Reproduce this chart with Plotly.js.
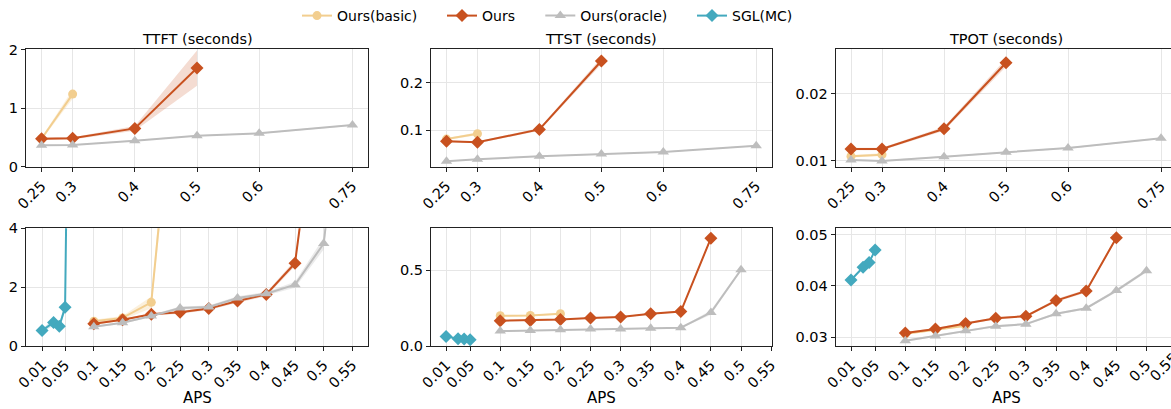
<!DOCTYPE html>
<html>
<head>
<meta charset="utf-8">
<script src="https://cdn.plot.ly/plotly-3.0.1.min.js"></script>
<style>html,body{margin:0;padding:0;overflow:hidden;background:#fff;}</style>
</head>
<body>
<div id="chart" style="width:1171px;height:409px;"></div>
<script>
// ---------- data ----------
const seriesNames = ['Ours(basic)', 'Ours', 'Ours(oracle)', 'SGL(MC)'];
const panelTitles = ['TTFT (seconds)', 'TTST (seconds)', 'TPOT (seconds)'];
const xLabel = 'APS';

const xTop = [0.25, 0.3, 0.4, 0.5, 0.6, 0.75];
const xTopTicks = ['0.25', '0.3', '0.4', '0.5', '0.6', '0.75'];
const xBottom = [0.1, 0.15, 0.2, 0.25, 0.3, 0.35, 0.4, 0.45, 0.5, 0.55];
const xBottomTicks = [0.01, 0.05, 0.1, 0.15, 0.2, 0.25, 0.3, 0.35, 0.4, 0.45, 0.5, 0.55];
const xSgl = [0.01, 0.03, 0.04, 0.05, 0.06];

// top row (APS sweep 0.25..0.75)
const ttftBasic  = [0.48, 1.24];
const ttftOurs   = [0.48, 0.486, 0.655, 1.684];
const ttftOracle = [0.367, 0.373, 0.446, 0.531, 0.571, 0.712];
const ttstBasic  = [0.081, 0.0923];
const ttstOurs   = [0.0762, 0.0741, 0.1014, 0.2455];
const ttstOracle = [0.0343, 0.0385, 0.0448, 0.0497, 0.0538, 0.0671];
const tpotBasic  = [0.0107, 0.01094];
const tpotOurs   = [0.01178, 0.01178, 0.0148, 0.02465];
const tpotOracle = [0.01015, 0.0100, 0.01064, 0.01129, 0.01193, 0.01337];

// top row spreads (half-width of shaded band)
const ttftBasicSd  = [0.02, 0.08];
const ttftOursSd   = [0.02, 0.02, 0.04, 0.3];
const ttftOracleSd = [0.01, 0.01, 0.01, 0.01, 0.01, 0.01];
const ttstBasicSd  = [0.002, 0.003];
const ttstOursSd   = [0.002, 0.002, 0.003, 0.007];
const ttstOracleSd = [0.001, 0.001, 0.001, 0.001, 0.001, 0.001];
const tpotBasicSd  = [0.0002, 0.0002];
const tpotOursSd   = [0.0002, 0.0002, 0.0003, 0.0006];
const tpotOracleSd = [0.0001, 0.0001, 0.0001, 0.0001, 0.0001, 0.0001];

// bottom row (APS sweep 0.01..0.55)
const ttftSglB    = [0.528, 0.80, 0.674, 1.315, 17];
const ttftBasicB  = [0.843, 0.955, 1.483, 11.5];
const ttftOursB   = [0.753, 0.888, 1.079, 1.146, 1.27, 1.528, 1.753, 2.81, 10.2];
const ttftOracleB = [0.652, 0.787, 1.022, 1.292, 1.326, 1.63, 1.775, 2.08, 3.48, 12.3];
const ttstSglB    = [0.0636, 0.048, 0.046, 0.0417];
const ttstBasicB  = [0.2, 0.202, 0.213];
const ttstOursB   = [0.167, 0.169, 0.175, 0.186, 0.191, 0.213, 0.228, 0.713];
const ttstOracleB = [0.0987, 0.103, 0.107, 0.112, 0.112, 0.118, 0.121, 0.221, 0.504];
const tpotSglB    = [0.04117, 0.04364, 0.04461, 0.04701];
const tpotBasicB  = [0.03065, 0.03143, 0.0322];
const tpotOursB   = [0.03078, 0.03156, 0.03266, 0.0337, 0.03409, 0.03714, 0.03903, 0.04942];
const tpotOracleB = [0.02929, 0.0302, 0.03123, 0.03214, 0.03253, 0.03455, 0.03565, 0.03909, 0.04299];

const ttftSglBSd    = [0.06, 0.1, 0.08, 0.15, 1];
const ttftBasicBSd  = [0.05, 0.06, 0.2, 1];
const ttftOursBSd   = [0.03, 0.03, 0.04, 0.05, 0.05, 0.06, 0.06, 0.1, 0.5];
const ttftOracleBSd = [0.03, 0.03, 0.04, 0.05, 0.05, 0.06, 0.06, 0.1, 0.2, 0.5];
const ttstSglBSd    = [0.004, 0.003, 0.003, 0.003];
const ttstBasicBSd  = [0.005, 0.005, 0.006];
const ttstOursBSd   = [0.004, 0.004, 0.004, 0.004, 0.004, 0.005, 0.005, 0.01];
const ttstOracleBSd = [0.003, 0.003, 0.003, 0.003, 0.003, 0.003, 0.003, 0.015, 0.01];
const tpotSglBSd    = [0.0002, 0.0002, 0.0002, 0.0002];
const tpotBasicBSd  = [0.0002, 0.0002, 0.0002];
const tpotOursBSd   = [0.0002, 0.0002, 0.0002, 0.0002, 0.0002, 0.0003, 0.0003, 0.0003];
const tpotOracleBSd = [0.0002, 0.0002, 0.0002, 0.0002, 0.0002, 0.0002, 0.0002, 0.0003, 0.0003];

// ---------- styling ----------
const colors = ['#F2CE8F', '#C8511F', '#BDBDBD', '#43A9BE'];
const bandColors = ['rgba(242,206,143,0.3)', 'rgba(200,81,31,0.2)', 'rgba(189,189,189,0.3)', 'rgba(67,169,190,0.25)'];
const symbols = ['circle', 'diamond', 'triangle-up', 'diamond'];
const msizes = [9, 10, 10, 10];
const FONT = 'DejaVu Sans';

const traces = [];
function addSeries(k, xs, ys, sd, ax, showLeg) {
  const n = ys.length;
  const xx = xs.slice(0, n);
  const hi = ys.map((v, i) => v + sd[i]);
  const lo = ys.map((v, i) => v - sd[i]);
  traces.push({
    x: xx.concat(xx.slice().reverse()),
    y: hi.concat(lo.slice().reverse()),
    xaxis: 'x' + ax, yaxis: 'y' + ax,
    type: 'scatter', mode: 'lines', fill: 'toself',
    fillcolor: bandColors[k], line: {width: 0, color: bandColors[k]},
    hoverinfo: 'skip', showlegend: false
  });
  traces.push({
    x: xx, y: ys, xaxis: 'x' + ax, yaxis: 'y' + ax,
    type: 'scatter', mode: 'lines+markers', name: seriesNames[k],
    line: {color: colors[k], width: 2},
    marker: {color: colors[k], symbol: symbols[k], size: msizes[k]},
    showlegend: !!showLeg,
    legend: k === 0 ? 'legend' : 'legend' + (k + 1)
  });
}
const ax = ['', '2', '3', '4', '5', '6'];
// top row
addSeries(0, xTop, ttftBasic, ttftBasicSd, ax[0], true);
addSeries(1, xTop, ttftOurs, ttftOursSd, ax[0], true);
addSeries(2, xTop, ttftOracle, ttftOracleSd, ax[0], true);
addSeries(0, xTop, ttstBasic, ttstBasicSd, ax[1]);
addSeries(1, xTop, ttstOurs, ttstOursSd, ax[1]);
addSeries(2, xTop, ttstOracle, ttstOracleSd, ax[1]);
addSeries(0, xTop, tpotBasic, tpotBasicSd, ax[2]);
addSeries(1, xTop, tpotOurs, tpotOursSd, ax[2]);
addSeries(2, xTop, tpotOracle, tpotOracleSd, ax[2]);
// bottom row
addSeries(0, xBottom, ttftBasicB, ttftBasicBSd, ax[3]);
addSeries(1, xBottom, ttftOursB, ttftOursBSd, ax[3]);
addSeries(2, xBottom, ttftOracleB, ttftOracleBSd, ax[3]);
addSeries(3, xSgl, ttftSglB, ttftSglBSd, ax[3], true);
addSeries(0, xBottom, ttstBasicB, ttstBasicBSd, ax[4]);
addSeries(1, xBottom, ttstOursB, ttstOursBSd, ax[4]);
addSeries(2, xBottom, ttstOracleB, ttstOracleBSd, ax[4]);
addSeries(3, xSgl, ttstSglB, ttstSglBSd, ax[4]);
addSeries(0, xBottom, tpotBasicB, tpotBasicBSd, ax[5]);
addSeries(1, xBottom, tpotOursB, tpotOursBSd, ax[5]);
addSeries(2, xBottom, tpotOracleB, tpotOracleBSd, ax[5]);
addSeries(3, xSgl, tpotSglB, tpotSglBSd, ax[5]);

// ---------- layout ----------
const W = 1171, H = 409;
const colPx = [[26, 368], [431, 771.7], [835.7, 1171]];
const rowPx = [[47.7, 165.7], [227.3, 345.7]];
const xRanges = [[0.225, 0.775], [0.225, 0.775], [0.2253, 0.7661], [-0.018, 0.577], [-0.015, 0.551], [-0.0154, 0.5406]];
const yRanges = [[0, 2], [0.0224, 0.2698], [0.00911, 0.02663], [0, 4], [0, 0.779], [0.02825, 0.0513]];
const yTicks = [[0, 1, 2], [0.1, 0.2], [0.01, 0.02], [0, 2, 4], [0, 0.5], [0.03, 0.04, 0.05]];
const yTickText = [['0', '1', '2'], ['0.1', '0.2'], ['0.01', '0.02'], ['0', '2', '4'], ['0.0', '0.5'], ['0.03', '0.04', '0.05']];

const layout = {
  width: W, height: H,
  margin: {l: 0, r: 0, t: 0, b: 0},
  paper_bgcolor: '#fff', plot_bgcolor: '#fff',
  font: {family: FONT, size: 14.5, color: '#000'},
  annotations: [], showlegend: true
};
const tickFont = {family: FONT, size: 14.5, color: '#000'};
for (let i = 0; i < 6; i++) {
  const r = i < 3 ? 0 : 1, c = i % 3;
  const xa = {
    domain: [colPx[c][0] / W, colPx[c][1] / W],
    range: xRanges[i], anchor: 'y' + ax[i],
    showgrid: true, gridcolor: '#e6e6e6', gridwidth: 1, zeroline: false,
    showline: true, linecolor: '#222', linewidth: 1, mirror: true,
    ticks: 'outside', ticklen: 4, tickcolor: '#222', tickwidth: 1,
    tickangle: -45, tickfont: tickFont, tickmode: 'array'
  };
  if (r === 0) { xa.tickvals = xTop; xa.ticktext = xTopTicks; }
  else { xa.tickvals = xBottomTicks; xa.ticktext = xBottomTicks.map(String); }
  const ya = {
    domain: [1 - rowPx[r][1] / H, 1 - rowPx[r][0] / H],
    range: yRanges[i], anchor: 'x' + ax[i],
    showgrid: true, gridcolor: '#e6e6e6', gridwidth: 1, zeroline: false,
    showline: true, linecolor: '#222', linewidth: 1, mirror: c !== 2,
    ticks: 'outside', ticklen: 4, tickcolor: '#222', tickwidth: 1,
    tickfont: tickFont, tickmode: 'array', tickvals: yTicks[i], ticktext: yTickText[i]
  };
  layout['xaxis' + ax[i]] = xa;
  layout['yaxis' + ax[i]] = ya;
}
const colCenters = [197, 601.3, 1006];
for (let c = 0; c < 3; c++) {
  layout.annotations.push({
    text: panelTitles[c], xref: 'paper', yref: 'paper',
    x: colCenters[c] / W, y: 1 - 36.7 / H, xanchor: 'center', yanchor: 'middle',
    showarrow: false, font: {family: FONT, size: 14.5, color: '#000'}
  });
  layout.annotations.push({
    text: xLabel, xref: 'paper', yref: 'paper',
    x: colCenters[c] / W, y: 1 - 398 / H, xanchor: 'center', yanchor: 'middle',
    showarrow: false, font: {family: FONT, size: 15, color: '#000'}
  });
}
// last bottom-right tick label lies just past the window edge (cropped in the original)
layout.annotations.push({
  text: String(xBottomTicks[xBottomTicks.length - 1]), xref: 'paper', yref: 'paper',
  x: 1164 / W, y: 1 - 367 / H, xanchor: 'center', yanchor: 'middle', textangle: -45,
  showarrow: false, font: tickFont
});
const legTextStarts = [340, 485, 583.3, 735];
const legKeys = ['legend', 'legend2', 'legend3', 'legend4'];
for (let k = 0; k < 4; k++) {
  layout[legKeys[k]] = {
    x: (legTextStarts[k] - 43) / W, xanchor: 'left', y: 1.005, yanchor: 'top',
    orientation: 'h', bgcolor: 'rgba(0,0,0,0)', borderwidth: 0,
    font: {family: FONT, size: 14, color: '#000'}
  };
}
Plotly.newPlot('chart', traces, layout, {staticPlot: true, displayModeBar: false});
</script>
</body>
</html>
